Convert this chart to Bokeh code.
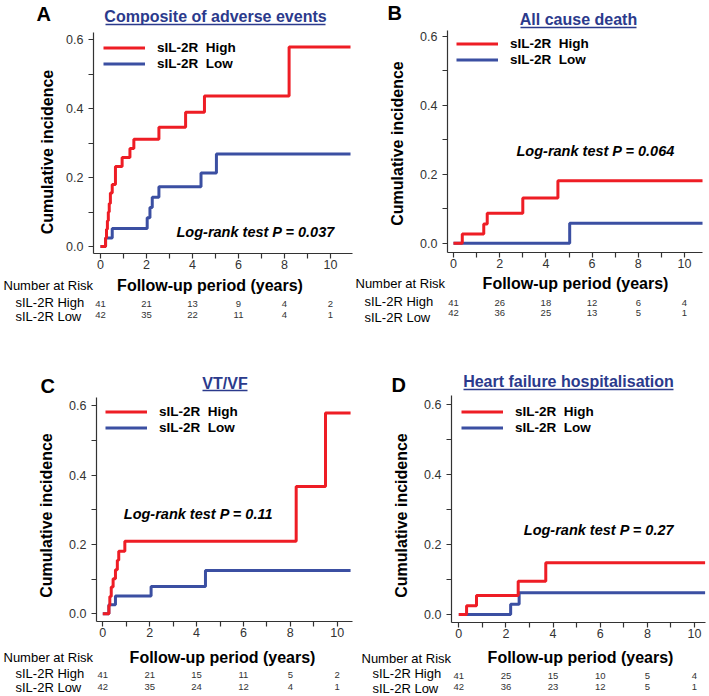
import math
from bokeh.plotting import figure
from bokeh.models import Label, Legend, LegendItem, FixedTicker, Range1d
from bokeh.layouts import column, row
from bokeh.embed import file_html
from bokeh.resources import INLINE

FONT = "Liberation Sans"
RED = "#ee1d25"
BLUE = "#3b4fa2"
NAVY = "#2b3a8c"
AXC = "#333333"

# ---------------- data ----------------
letters = ["A", "B", "C", "D"]
titles = ["Composite of adverse events", "All cause death", "VT/VF", "Heart failure hospitalisation"]
logrank = ["Log-rank test P = 0.037", "Log-rank test P = 0.064", "Log-rank test P = 0.11", "Log-rank test P = 0.27"]
series_labels = ["sIL-2R  High", "sIL-2R  Low"]
risk_row_labels = ["sIL-2R High", "sIL-2R Low"]
risk_years = [0, 2, 4, 6, 8, 10]

A_high_t = [0, 0.22, 0.26, 0.30, 0.34, 0.38, 0.43, 0.51, 0.65, 0.94, 1.28, 1.45, 2.54, 3.70, 4.52, 8.20, 10.87]
A_high_v = [0, 0.025, 0.05, 0.075, 0.10, 0.125, 0.155, 0.18, 0.232, 0.258, 0.284, 0.311, 0.346, 0.389, 0.436, 0.578, 0.578]
A_low_t = [0, 0.22, 0.51, 2.03, 2.15, 2.25, 2.54, 4.37, 5.04, 10.87]
A_low_v = [0, 0.025, 0.052, 0.083, 0.113, 0.143, 0.173, 0.213, 0.268, 0.268]

B_high_t = [0, 0.38, 1.31, 1.46, 3.00, 4.52, 10.78]
B_high_v = [0, 0.027, 0.056, 0.087, 0.131, 0.181, 0.181]
B_low_t = [0, 5.03, 10.78]
B_low_v = [0, 0.058, 0.058]

C_high_t = [0, 0.26, 0.30, 0.36, 0.44, 0.54, 0.62, 0.68, 0.94, 8.25, 9.50, 10.57]
C_high_v = [0, 0.024, 0.05, 0.077, 0.101, 0.127, 0.154, 0.18, 0.209, 0.367, 0.579, 0.579]
C_low_t = [0, 0.26, 0.54, 2.06, 4.38, 10.57]
C_low_v = [0, 0.026, 0.051, 0.079, 0.125, 0.125]

D_high_t = [0, 0.33, 0.75, 2.52, 3.69, 10.45]
D_high_v = [0, 0.025, 0.054, 0.095, 0.148, 0.148]
D_low_t = [0, 2.20, 2.56, 10.45]
D_low_v = [0, 0.029, 0.062, 0.062]

A_risk_high = [41, 21, 13, 9, 4, 2]
A_risk_low = [42, 35, 22, 11, 4, 1]
B_risk_high = [41, 26, 18, 12, 6, 4]
B_risk_low = [42, 36, 25, 13, 5, 1]
C_risk_high = [41, 21, 15, 11, 5, 2]
C_risk_low = [42, 35, 24, 12, 4, 1]
D_risk_high = [41, 25, 15, 10, 5, 4]
D_risk_low = [42, 36, 23, 12, 5, 1]

y_ticks = [0.0, 0.1, 0.2, 0.3, 0.4, 0.5, 0.6]
y_tick_labels = ["0.0", "", "0.2", "", "0.4", "", "0.6"]
x_ticks = [0, 1, 2, 3, 4, 5, 6, 7, 8, 9, 10]
x_tick_labels = ["0", "", "2", "", "4", "", "6", "", "8", "", "10"]

# ---------------- layout (page pixel positions) ----------------
layout = {
    "A": dict(box=(0, 0, 354, 348), frame=(93, 32, 352, 253), cal=(100, 23.0, 246, 345),
              legend=(103, 47), letter=(36, 13), title=(215, 16), uline=(105, 325, 24), ylab=(47, 151.5),
              lr=(176, 231), nar=(3, 285), xlab=(209.5, 285), rows=(15, 302, 316), nums=(303, 314.5)),
    "B": dict(box=(354, 0, 355, 348), frame=(447, 30, 702, 252), cal=(453, 23.1, 242.7, 345),
              legend=(456, 43), letter=(387, 12), title=(578, 19), uline=(520, 636, 27), ylab=(397, 143),
              lr=(516, 150.7), nar=(355, 283), xlab=(575, 283), rows=(364, 301, 317), nums=(302, 312.5)),
    "C": dict(box=(0, 348, 354, 348), frame=(96, 397, 352, 621), cal=(102.3, 23.44, 613.3, 347),
              legend=(105, 411), letter=(40, 385), title=(224.5, 383), uline=(202, 247, 390), ylab=(46, 515),
              lr=(123.3, 513.3), nar=(3, 657), xlab=(222, 657), rows=(15, 673, 687), nums=(674, 686)),
    "D": dict(box=(354, 348, 355, 348), frame=(451, 395, 705, 622), cal=(458.3, 23.57, 614, 350),
              legend=(461, 411), letter=(391, 384), title=(568, 381), uline=(463, 673, 389), ylab=(400.5, 515),
              lr=(523.3, 529.3), nar=(361, 657.7), xlab=(580, 657), rows=(372, 673, 688), nums=(675.7, 686)),
}

LEG_ITEM_H = 15
LEG_SPACING = 1


def make_panel(key, letter, title, lr_text, hi_t, hi_v, lo_t, lo_v, risk_hi, risk_lo):
    g = layout[key]
    ox, oy, W, H = g["box"]
    L, T, R, B = g["frame"]
    x0, ppy, y0, ppu = g["cal"]

    def fx(px):
        return (px - x0) / ppy

    def fy(py):
        return (y0 - py) / ppu

    p = figure(width=W, height=H,
               x_range=Range1d(fx(ox), fx(ox + W)), y_range=Range1d(fy(oy + H), fy(oy)),
               min_border=0, toolbar_location=None, output_backend="svg")
    p.min_border_left = p.min_border_right = p.min_border_top = p.min_border_bottom = 0
    p.outline_line_color = None
    p.xgrid.visible = False
    p.ygrid.visible = False

    # axes drawn at the plot-area edges
    p.yaxis.fixed_location = fx(L)
    p.yaxis.bounds = (fy(B), fy(T))
    p.xaxis.fixed_location = fy(B)
    p.xaxis.bounds = (fx(L), fx(R))
    for ax in (p.xaxis[0], p.yaxis[0]):
        ax.axis_line_color = AXC
        ax.axis_line_width = 1.2
        ax.major_tick_line_color = AXC
        ax.major_tick_line_width = 1.2
        ax.major_tick_out = 5
        ax.major_tick_in = 0
        ax.minor_tick_line_color = None
        ax.major_label_text_font = FONT
        ax.major_label_text_font_size = "12.5px"
        ax.major_label_text_color = AXC
    p.yaxis.ticker = FixedTicker(ticks=y_ticks)
    p.yaxis.major_label_overrides = dict(zip(y_ticks, y_tick_labels))
    p.yaxis.major_label_standoff = 5
    p.xaxis.ticker = FixedTicker(ticks=x_ticks)
    p.xaxis.major_label_overrides = dict(zip(x_ticks, x_tick_labels))
    p.xaxis.major_label_standoff = 1

    r_lo = p.step(x=lo_t, y=lo_v, mode="after", line_color=BLUE, line_width=3)
    r_hi = p.step(x=hi_t, y=hi_v, mode="after", line_color=RED, line_width=3)

    gl, gc = g["legend"]
    leg_h = 2 * LEG_ITEM_H + LEG_SPACING
    leg_top = gc - LEG_ITEM_H / 2
    leg = Legend(items=[LegendItem(label=series_labels[0], renderers=[r_hi]),
                        LegendItem(label=series_labels[1], renderers=[r_lo])],
                 location=(gl - ox, (oy + H) - (leg_top + leg_h)))
    leg.margin = 0
    leg.padding = 0
    leg.spacing = LEG_SPACING
    leg.glyph_width = 42
    leg.glyph_height = LEG_ITEM_H
    leg.label_height = LEG_ITEM_H
    leg.label_standoff = 12
    leg.border_line_color = None
    leg.background_fill_alpha = 0
    leg.label_text_font = FONT
    leg.label_text_font_style = "bold"
    leg.label_text_font_size = "13.5px"
    leg.label_text_color = "black"
    p.add_layout(leg)

    def lab(px, py, text, size, style="normal", align="left", color="black", angle=0.0, data_x=None):
        x = fx(px) if data_x is None else data_x
        p.add_layout(Label(x=x, y=fy(py), text=text, text_font=FONT, text_font_size=size,
                           text_font_style=style, text_align=align, text_baseline="middle",
                           text_color=color, angle=angle))

    lab(*g["letter"], letter, "20px", "bold")
    lab(*g["title"], title, "16px", "bold", align="center", color=NAVY)
    ux1, ux2, uy = g["uline"]
    p.segment(x0=[fx(ux1)], y0=[fy(uy)], x1=[fx(ux2)], y1=[fy(uy)], line_color=NAVY, line_width=1.5)
    lab(*g["ylab"], "Cumulative incidence", "16px", "bold", align="center", angle=math.pi / 2)
    lab(*g["lr"], lr_text, "14.5px", "bold italic")
    lab(*g["nar"], "Number at Risk", "13px")
    lab(*g["xlab"], "Follow-up period (years)", "16px", "bold", align="center")
    rx, ry1, ry2 = g["rows"]
    lab(rx, ry1, risk_row_labels[0], "13px")
    lab(rx, ry2, risk_row_labels[1], "13px")
    ny1, ny2 = g["nums"]
    for yr, nh, nl in zip(risk_years, risk_hi, risk_lo):
        lab(0, ny1, str(nh), "9.5px", align="center", color=AXC, data_x=yr)
        lab(0, ny2, str(nl), "9.5px", align="center", color=AXC, data_x=yr)
    return p


pA = make_panel("A", letters[0], titles[0], logrank[0], A_high_t, A_high_v, A_low_t, A_low_v, A_risk_high, A_risk_low)
pB = make_panel("B", letters[1], titles[1], logrank[1], B_high_t, B_high_v, B_low_t, B_low_v, B_risk_high, B_risk_low)
pC = make_panel("C", letters[2], titles[2], logrank[2], C_high_t, C_high_v, C_low_t, C_low_v, C_risk_high, C_risk_low)
pD = make_panel("D", letters[3], titles[3], logrank[3], D_high_t, D_high_v, D_low_t, D_low_v, D_risk_high, D_risk_low)

page = column(row(pA, pB, spacing=0), row(pC, pD, spacing=0), spacing=0)

with open("out.html", "w") as f:
    f.write(file_html(page, INLINE))
